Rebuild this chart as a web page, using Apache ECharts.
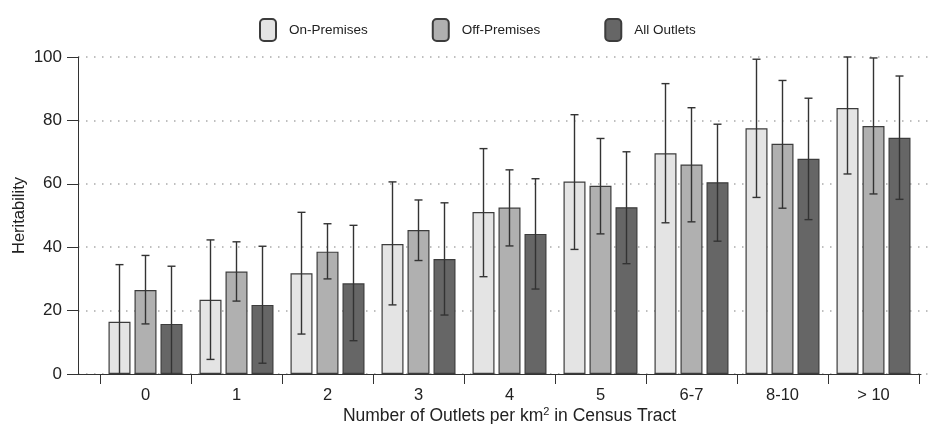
<!DOCTYPE html>
<html>
<head>
<meta charset="utf-8">
<script src="https://cdn.jsdelivr.net/npm/echarts@6/dist/echarts.min.js"></script>
<style>
  html, body { margin: 0; padding: 0; background: #fff; }
  #chart { width: 933px; height: 424px; }
</style>
</head>
<body>
<div id="chart"></div>
<script>
const categories = ['0', '1', '2', '3', '4', '5', '6-7', '8-10', '> 10'];
const seriesNames = ['On-Premises', 'Off-Premises', 'All Outlets'];

const onPrem     = [16.5, 23.4, 31.8, 41.0, 51.1, 60.7, 69.6, 77.5, 83.9];
const onPremLow  = [-1.5, 4.6, 12.6, 21.8, 30.7, 39.3, 47.7, 55.7, 63.1];
const onPremHigh = [34.5, 42.3, 51.0, 60.6, 71.1, 81.8, 91.6, 99.3, 100.0];

const offPrem     = [26.5, 32.3, 38.6, 45.4, 52.5, 59.4, 66.1, 72.6, 78.2];
const offPremLow  = [15.8, 23.0, 30.0, 35.8, 40.4, 44.2, 48.0, 52.3, 56.8];
const offPremHigh = [37.4, 41.7, 47.4, 54.9, 64.4, 74.3, 84.0, 92.6, 99.7];

const allOutlets     = [15.8, 21.8, 28.6, 36.3, 44.2, 52.6, 60.5, 67.9, 74.5];
const allOutletsLow  = [-2.4, 3.4, 10.5, 18.6, 26.8, 34.8, 41.9, 48.7, 55.1];
const allOutletsHigh = [34.0, 40.3, 46.9, 54.0, 61.6, 70.1, 78.8, 87.0, 94.0];

const yTicks = [0, 20, 40, 60, 80, 100];

const colors = ['#e4e4e4', '#b0b0b0', '#666666'];
const values = [onPrem, offPrem, allOutlets];
const lows = [onPremLow, offPremLow, allOutletsLow];
const highs = [onPremHigh, offPremHigh, allOutletsHigh];

const BAR_W = 22, BAR_GAP = 4;
const FONT = 'Liberation Sans, Arial, sans-serif';

const chart = echarts.init(document.getElementById('chart'), null, { renderer: 'canvas' });

const series = [];
values.forEach((vals, s) => {
  series.push({
    name: seriesNames[s],
    type: 'bar',
    xAxisIndex: 1,
    yAxisIndex: 1,
    data: vals,
    barWidth: BAR_W,
    barGap: (BAR_GAP / BAR_W * 100) + '%',
    itemStyle: { color: colors[s], borderColor: '#3c3c3c', borderWidth: 1.2 },
    emphasis: { disabled: true },
    z: 2
  });
});
values.forEach((vals, s) => {
  series.push({
    type: 'custom',
    xAxisIndex: 1,
    yAxisIndex: 1,
    z: 5,
    silent: true,
    data: categories.map((c, i) => [i, lows[s][i], highs[s][i]]),
    renderItem: function (params, api) {
      const i = api.value(0);
      const lo = Math.max(api.value(1), 0);
      const hi = api.value(2);
      const off = (s - 1) * (BAR_W + BAR_GAP);
      const pHi = api.coord([i, hi]);
      const pLo = api.coord([i, lo]);
      const x = pHi[0] + off;
      const cap = 4;
      const st = { stroke: '#333', lineWidth: 1.4 };
      const children = [
        { type: 'line', shape: { x1: x, y1: pHi[1], x2: x, y2: pLo[1] }, style: st },
        { type: 'line', shape: { x1: x - cap, y1: pHi[1], x2: x + cap, y2: pHi[1] }, style: st }
      ];
      if (api.value(1) > 0) {
        children.push({ type: 'line', shape: { x1: x - cap, y1: pLo[1], x2: x + cap, y2: pLo[1] }, style: st });
      }
      return { type: 'group', children: children };
    }
  });
});

const option = {
  backgroundColor: '#ffffff',
  animation: false,
  textStyle: { fontFamily: FONT },
  legend: {
    data: seriesNames,
    top: 13,
    left: 254,
    itemWidth: 16,
    itemHeight: 22,
    itemGap: 64,
    icon: 'roundRect',
    textStyle: { fontSize: 13.5, color: '#222', fontFamily: FONT, padding: [0, 0, 0, 8] }
  },
  grid: [
    { left: 78, right: 0, top: 57, bottom: 50, outerBoundsMode: 'none', containLabel: false },
    { left: 100, right: 14, top: 57, bottom: 50, outerBoundsMode: 'none', containLabel: false },
    { left: 78, right: 12, top: 57, bottom: 50, outerBoundsMode: 'none', containLabel: false }
  ],
  xAxis: [
    { gridIndex: 0, type: 'value', show: false, min: 0, max: 1 },
    {
      gridIndex: 1,
      type: 'category',
      data: categories,
      axisLine: { show: true, lineStyle: { color: '#333', width: 1 } },
      axisTick: { show: true, alignWithLabel: false, length: 10, lineStyle: { color: '#333', width: 1 } },
      axisLabel: { fontSize: 16.5, color: '#222', margin: 13, fontFamily: FONT },
      name: 'Number of Outlets per km{sup|2} in Census Tract',
      nameLocation: 'middle',
      nameGap: 32,
      nameMoveOverlap: false,
      nameTextStyle: {
        fontSize: 17.5, color: '#222', fontFamily: FONT,
        rich: { sup: { fontSize: 11, color: '#222', fontFamily: FONT, padding: [0, 0, 10, 0] } }
      }
    },
    {
      gridIndex: 2, type: 'value', min: 0, max: 1,
      axisLine: { show: true, onZero: false, lineStyle: { color: '#333', width: 1 } },
      axisTick: { show: false }, axisLabel: { show: false }, splitLine: { show: false }
    }
  ],
  yAxis: [
    {
      gridIndex: 0,
      type: 'value',
      min: yTicks[0],
      max: yTicks[yTicks.length - 1],
      interval: yTicks[1] - yTicks[0],
      axisLine: { show: true, lineStyle: { color: '#333', width: 1 } },
      axisTick: { show: true, length: 11, lineStyle: { color: '#333', width: 1 } },
      axisLabel: { fontSize: 17, color: '#222', margin: 16, fontFamily: FONT },
      splitLine: { show: true, lineStyle: { color: '#aaa', type: [1.5, 6.5], width: 1.5 } },
      name: 'Heritability',
      nameLocation: 'middle',
      nameGap: 50,
      nameMoveOverlap: false,
      nameTextStyle: { fontSize: 16.5, color: '#222', fontFamily: FONT }
    },
    { gridIndex: 1, type: 'value', min: 0, max: 100, show: false },
    { gridIndex: 2, type: 'value', min: 0, max: 100, show: false }
  ],
  series: series
};

chart.setOption(option);
</script>
</body>
</html>
